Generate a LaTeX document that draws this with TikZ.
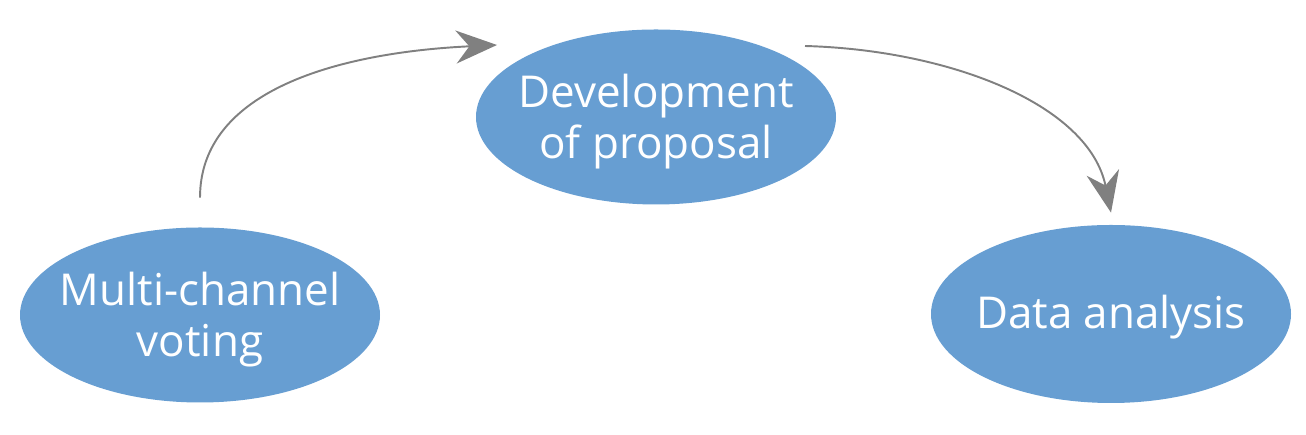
\documentclass[tikz,border=0pt]{standalone}
\usepackage{fontspec}
\setmainfont{Open Sans}
\usepackage{xcolor}
\usetikzlibrary{arrows.meta, positioning, shapes.geometric}
\definecolor{stageblue}{RGB}{103,158,210}
\definecolor{flowgray}{RGB}{128,128,128}
\newcommand{\stagefont}{\fontsize{25}{29}\selectfont}

\begin{document}
\begin{tikzpicture}[
  stage/.style={ellipse, fill=stageblue, minimum width=7.2cm, minimum height=3.5cm, inner sep=0pt},
  txt/.style={text=white, font=\stagefont, align=center, yshift=-0.1cm},
  flow/.style={-{Stealth[length=8.2mm, width=6.6mm]}, draw=flowgray, line width=1.1pt}
]
\useasboundingbox (0,0) rectangle (26.12,8.7);

% Nodes
\node[stage, label={[txt]center:Multi-channel\\voting}] (vote) at (4.0,2.4) {};
\node[stage, label={[txt]center:Development\\of proposal}] (dev) at (13.12,6.36) {};
\node[stage, minimum height=3.56cm, label={[txt, yshift=0.04cm]center:Data analysis}] (data) at (22.22,2.42) {};

% Free ends
\coordinate[above=0.59cm of vote.north] (votetop);
\coordinate (devleft) at ([xshift=-3.18cm, yshift=1.44cm]dev.center);
\coordinate (devright) at ([xshift=2.98cm, yshift=1.42cm]dev.center);
\coordinate[above=0.24cm of data.north] (datatop);

% Edges
\draw[flow] (votetop) .. controls +(0,2.16) and +(-3.14,-0.15) .. (devleft);
\draw[flow] (devright) .. controls +(2.9,-0.08) and +(-0.44,2.16) .. (datatop);

\end{tikzpicture}
\end{document}
